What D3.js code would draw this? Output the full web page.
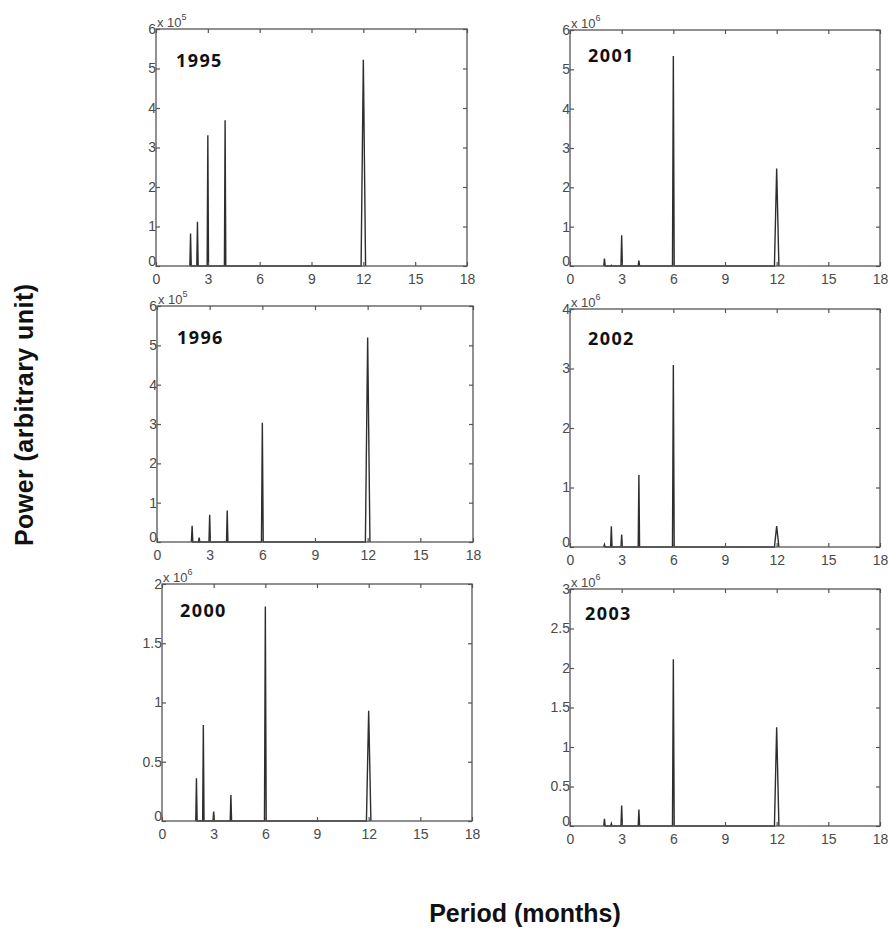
<!DOCTYPE html>
<html>
<head>
<meta charset="utf-8">
<script src="https://cdn.jsdelivr.net/npm/d3@7"></script>
<style>
  body { margin: 0; background: #fff; }
  svg { display: block; }
  .tick-label { font-family: "Liberation Sans", Arial, sans-serif; font-size: 14px; fill: #4a4a4a; }
  .year { font-family: "Noto Sans", sans-serif; font-weight: bold; font-size: 18px; fill: #111; letter-spacing: 1.4px; }
  .axis-title { font-family: "Liberation Sans", Arial, sans-serif; font-weight: bold; font-size: 25px; fill: #111; }
</style>
</head>
<body>
<div id="chart"></div>
<script>
// periods (months) where the spectra have peaks
var periods = [2, 2.4, 3, 4, 6, 12];

// peak power per year, same order as periods
var power1995 = [0.82e5, 1.12e5, 3.31e5, 3.69e5, 0, 5.22e5];
var power1996 = [0.41e5, 0.11e5, 0.69e5, 0.80e5, 3.03e5, 5.20e5];
var power2000 = [0.36e6, 0.81e6, 0.08e6, 0.22e6, 1.81e6, 0.93e6];
var power2001 = [0.19e6, 0.02e6, 0.78e6, 0.14e6, 5.34e6, 2.48e6];
var power2002 = [0.04e6, 0.35e6, 0.21e6, 1.21e6, 3.06e6, 0.35e6];
var power2003 = [0.09e6, 0.03e6, 0.26e6, 0.21e6, 2.11e6, 1.25e6];

var xTicks = [0, 3, 6, 9, 12, 15, 18];
var yTicks1995 = [0, 1, 2, 3, 4, 5, 6];
var yTicks1996 = [0, 1, 2, 3, 4, 5, 6];
var yTicks2000 = [0, 0.5, 1, 1.5, 2];
var yTicks2001 = [0, 1, 2, 3, 4, 5, 6];
var yTicks2002 = [0, 1, 2, 3, 4];
var yTicks2003 = [0, 0.5, 1, 1.5, 2, 2.5, 3];

var panels = [
  { year: '1995', values: power1995, ticks: yTicks1995, exp: 5, box: [156, 29, 467, 266], label: [20, 38] },
  { year: '2001', values: power2001, ticks: yTicks2001, exp: 6, box: [570, 30, 880, 266], label: [18, 32] },
  { year: '1996', values: power1996, ticks: yTicks1996, exp: 5, box: [157, 306, 473, 542], label: [20, 38] },
  { year: '2002', values: power2002, ticks: yTicks2002, exp: 6, box: [570, 309, 880, 547], label: [18, 36] },
  { year: '2000', values: power2000, ticks: yTicks2000, exp: 6, box: [162, 584, 472, 821], label: [18, 33] },
  { year: '2003', values: power2003, ticks: yTicks2003, exp: 6, box: [570, 589, 880, 826], label: [15, 31] }
];

var W = 889, H = 932;
var svg = d3.select('#chart').append('svg')
  .attr('width', W)
  .attr('height', H);

function halfWidth(p) {
  return p === 12 ? 0.13 : (p === 6 ? 0.05 : 0.04);
}

function styleAxis(a) {
  a.select('.domain').remove();
  a.selectAll('line').attr('stroke', '#555').attr('stroke-width', 1.2);
  a.selectAll('text').attr('class', 'tick-label').attr('font-family', null).attr('font-size', null).attr('fill', null);
}

panels.forEach(function(d) {
  var x0 = d.box[0], y0 = d.box[1], x1 = d.box[2], y1 = d.box[3];
  var unit = Math.pow(10, d.exp);
  var x = d3.scaleLinear().domain([0, 18]).range([x0, x1]);
  var y = d3.scaleLinear().domain([0, d3.max(d.ticks) * unit]).range([y1, y0]);
  var yTickValues = d.ticks.map(function(t) { return t * unit; });

  var g = svg.append('g').attr('class', 'panel');

  // spectrum: one narrow spike per peak
  var pts = [];
  d.values.forEach(function(v, i) {
    var p = periods[i];
    if (!v) return;
    var hw = halfWidth(p);
    pts.push([p - hw, 0], [p, v], [p + hw, 0]);
  });
  var line = d3.line()
    .x(function(q) { return x(q[0]); })
    .y(function(q) { return y(q[1]); });

  g.append('path')
    .attr('d', line(pts))
    .attr('fill', 'none')
    .attr('stroke', '#2e2e2e')
    .attr('stroke-width', 1.4);

  g.append('g')
    .attr('transform', 'translate(0,' + y1 + ')')
    .call(d3.axisBottom(x).tickValues(xTicks).tickSize(-4).tickPadding(8).tickFormat(d3.format('d')))
    .call(styleAxis);

  g.append('g')
    .attr('transform', 'translate(0,' + y0 + ')')
    .call(d3.axisTop(x).tickValues(xTicks).tickSize(-4).tickFormat(''))
    .call(styleAxis);

  g.append('g')
    .attr('transform', 'translate(' + x0 + ',0)')
    .call(d3.axisLeft(y).tickValues(yTickValues).tickSize(-4).tickPadding(0)
      .tickFormat(function(v) { return d3.format('~g')(+(v / unit).toFixed(2)); }))
    .call(styleAxis)
    .call(function(a) {
      // lift the zero label a little so it sits above the x-axis zero
      a.selectAll('.tick').filter(function(v) { return v === 0; })
        .select('text').attr('dy', '-0.05em');
    });

  g.append('g')
    .attr('transform', 'translate(' + x1 + ',0)')
    .call(d3.axisRight(y).tickValues(yTickValues).tickSize(-4).tickFormat(''))
    .call(styleAxis);

  g.append('rect')
    .attr('x', x0).attr('y', y0)
    .attr('width', x1 - x0).attr('height', y1 - y0)
    .attr('fill', 'none')
    .attr('stroke', '#555')
    .attr('stroke-width', 1.3);

  // exponent
  var ex = g.append('text')
    .attr('class', 'tick-label')
    .attr('x', x0 + 1)
    .attr('y', y0 - 2)
    .style('font-size', '13px')
    .text('x 10');
  ex.append('tspan')
    .attr('dy', -7)
    .style('font-size', '9px')
    .text(d.exp);

  g.append('text')
    .attr('class', 'year')
    .attr('x', x0 + d.label[0])
    .attr('y', y0 + d.label[1])
    .text(d.year);
});

svg.append('text')
  .attr('class', 'axis-title')
  .attr('transform', 'translate(33,415) rotate(-90)')
  .attr('text-anchor', 'middle')
  .attr('textLength', 262)
  .attr('lengthAdjust', 'spacing')
  .text('Power (arbitrary  unit)');

svg.append('text')
  .attr('class', 'axis-title')
  .attr('x', 525)
  .attr('y', 922)
  .attr('text-anchor', 'middle')
  .text('Period (months)');
</script>
</body>
</html>
